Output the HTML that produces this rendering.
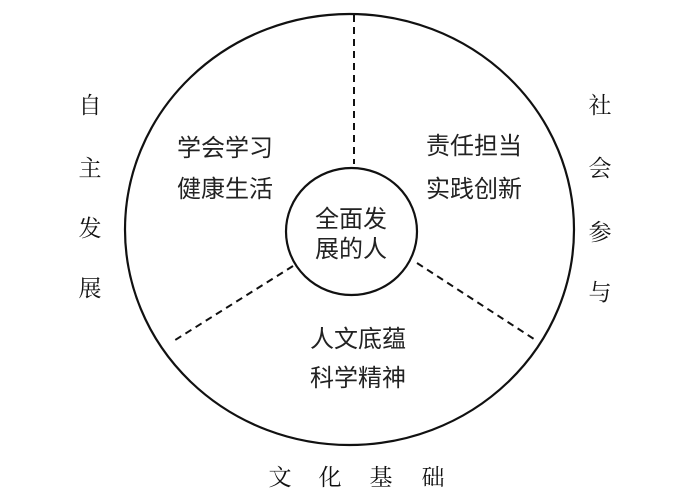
<!DOCTYPE html>
<html><head><meta charset="utf-8"><style>
html,body{margin:0;padding:0;background:#fff;}
svg text{font-family:"Liberation Serif","Noto Serif CJK SC",serif;fill:#111;}
svg .s text{font-family:"Liberation Sans","Noto Sans CJK SC",sans-serif;fill:#222;}
</style></head><body>
<svg width="691" height="492" viewBox="0 0 691 492" xmlns="http://www.w3.org/2000/svg">
<ellipse cx="349.5" cy="229.5" rx="224.5" ry="215.5" fill="none" stroke="#111" stroke-width="2.2"/>
<ellipse cx="351.5" cy="231.5" rx="65.5" ry="63.5" fill="none" stroke="#111" stroke-width="2.2"/>
<g stroke="#111" stroke-width="2" stroke-dasharray="7,5" fill="none">
<line x1="354" y1="15" x2="354" y2="164"/>
<line x1="293" y1="266" x2="172" y2="342"/>
<line x1="417" y1="263" x2="537" y2="341"/>
</g>
<g class="s" font-size="24" text-anchor="middle">
<text x="225" y="156">学会学习</text>
<text x="225" y="197">健康生活</text>
<text x="474" y="154">责任担当</text>
<text x="474" y="197">实践创新</text>
<text x="351" y="227">全面发</text>
<text x="351" y="257">展的人</text>
<text x="358" y="347">人文底蕴</text>
<text x="358" y="386">科学精神</text>
</g>
<g font-size="23" text-anchor="middle">
<text x="90" y="113">自</text>
<text x="90" y="176">主</text>
<text x="90" y="236">发</text>
<text x="90" y="296">展</text>
<text x="600" y="113">社</text>
<text x="600" y="176">会</text>
<text x="600" y="240">参</text>
<text x="600" y="300">与</text>
<text x="280" y="485">文</text>
<text x="330" y="485">化</text>
<text x="381" y="485">基</text>
<text x="433" y="485">础</text>
</g>
</svg>
</body></html>
